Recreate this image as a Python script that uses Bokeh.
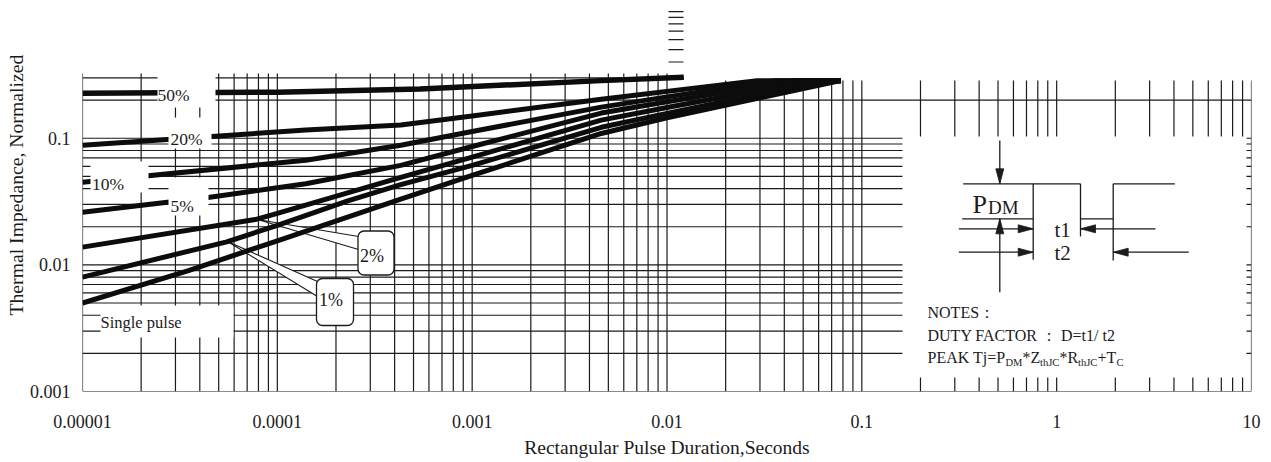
import math

from bokeh.plotting import figure
from bokeh.models import FixedTicker, CustomJSTickFormatter, Label, BoxAnnotation, Title
from bokeh.core.properties import value
from bokeh.embed import file_html
from bokeh.resources import INLINE

# ---------------- chart values ----------------
x_tick_values = [1e-5, 1e-4, 1e-3, 1e-2, 1e-1, 1.0, 10.0]
x_tick_labels = ["0.00001", "0.0001", "0.001", "0.01", "0.1", "1", "10"]
y_tick_values = [1e-3, 1e-2, 1e-1]
y_tick_labels = ["0.001", "0.01", "0.1"]

# rectangular pulse duration (s) and normalized thermal impedance per duty factor
t_d50 = [1e-5, 1e-4, 5.4e-4, 4.6e-3, 1.22e-2]
z_d50 = [0.227, 0.231, 0.245, 0.285, 0.303]
t_d20 = [1e-5, 1.4e-4, 4.3e-4, 1e-3, 4.6e-3, 2.9e-2, 7.8e-2]
z_d20 = [0.088, 0.116, 0.127, 0.150, 0.203, 0.285, 0.285]
t_d10 = [1e-5, 1.4e-4, 4.3e-4, 1e-3, 4.6e-3, 1e-2, 3.6e-2, 7.8e-2]
z_d10 = [0.045, 0.067, 0.088, 0.113, 0.176, 0.212, 0.285, 0.285]
t_d05 = [1e-5, 4.5e-5, 1.4e-4, 4.3e-4, 1e-3, 4.6e-3, 1e-2, 4.5e-2, 7.8e-2]
z_d05 = [0.026, 0.0342, 0.0437, 0.061, 0.086, 0.158, 0.194, 0.285, 0.285]
t_d02 = [1e-5, 7.7e-5, 1e-4, 4.3e-4, 1e-3, 4.6e-3, 1e-2, 5.5e-2, 7.8e-2]
z_d02 = [0.0138, 0.0228, 0.0255, 0.049, 0.071, 0.139, 0.175, 0.285, 0.285]
t_d01 = [1e-5, 5.5e-5, 1e-4, 2.3e-4, 4.3e-4, 1e-3, 4.6e-3, 1e-2, 6.5e-2, 7.8e-2]
z_d01 = [0.008, 0.0152, 0.0205, 0.032, 0.043, 0.061, 0.122, 0.157, 0.285, 0.285]
t_single = [1e-5, 3.5e-5, 1e-4, 4.3e-4, 1e-3, 4.6e-3, 1e-2, 7.8e-2]
z_single = [0.005, 0.009, 0.0155, 0.033, 0.051, 0.109, 0.145, 0.285]

curve_labels = ["50%", "20%", "10%", "5%", "2%", "1%", "Single pulse"]

# ---------------- figure ----------------
W, H = 1271, 462
LEFT, RIGHT, TOP, BOTTOM = 82, 20, 10, 71
X_RANGE = (1e-5, 10.0)
Y_RANGE = (1e-3, 1.02)
INK = "#1b1b1b"
SERIF = "Liberation Serif"

p = figure(width=W, height=H, x_axis_type="log", y_axis_type="log",
           x_range=X_RANGE, y_range=Y_RANGE,
           min_border_left=LEFT, min_border_right=RIGHT,
           min_border_top=TOP, min_border_bottom=BOTTOM,
           output_backend="svg", toolbar_location=None)
p.xgrid.visible = False
p.ygrid.visible = False
p.outline_line_color = None
p.background_fill_color = "white"
p.border_fill_color = "white"

FRAME_W = W - LEFT - RIGHT
FRAME_H = H - TOP - BOTTOM


def tx(px):
    """canvas x (px) -> pulse duration"""
    lo, hi = math.log10(X_RANGE[0]), math.log10(X_RANGE[1])
    return 10 ** (lo + (px - LEFT) / FRAME_W * (hi - lo))


def zy(py):
    """canvas y (px) -> impedance"""
    lo, hi = math.log10(Y_RANGE[0]), math.log10(Y_RANGE[1])
    return 10 ** (lo + (TOP + FRAME_H - py) / FRAME_H * (hi - lo))


# ---------------- axes ----------------
fmt_code = """
const k = vals.findIndex(v => Math.abs(Math.log10(v) - Math.log10(tick)) < 1e-6);
return k < 0 ? "" : labs[k];
"""
p.xaxis.ticker = FixedTicker(ticks=x_tick_values)
p.xaxis.formatter = CustomJSTickFormatter(args=dict(vals=x_tick_values, labs=x_tick_labels), code=fmt_code)
p.yaxis.ticker = FixedTicker(ticks=y_tick_values)
p.yaxis.formatter = CustomJSTickFormatter(args=dict(vals=y_tick_values, labs=y_tick_labels), code=fmt_code)

for ax in (p.xaxis[0], p.yaxis[0]):
    ax.axis_line_color = None
    ax.major_tick_line_color = None
    ax.minor_tick_line_color = None
    ax.major_tick_out = 0
    ax.major_tick_in = 0
    ax.minor_tick_out = 0
    ax.minor_tick_in = 0
    ax.major_label_text_font = SERIF
    ax.major_label_text_font_size = "18px"
    ax.major_label_text_color = INK

p.xaxis.major_label_standoff = 23
p.yaxis.major_label_standoff = 12
p.xaxis.axis_label = "Rectangular Pulse Duration,Seconds"
p.xaxis.axis_label_text_font = SERIF
p.xaxis.axis_label_text_font_style = "normal"
p.xaxis.axis_label_text_font_size = "19.5px"
p.xaxis.axis_label_text_color = INK
p.xaxis.axis_label_standoff = 6

# vertical title, anchored from the bottom of its side panel
p.add_layout(Title(text="Thermal Impedance, Normalized", align="left", offset=76, standoff=0,
                   text_font=SERIF, text_font_size="19.7px", text_font_style="normal",
                   text_color=INK), "left")

# ---------------- log grid ----------------
cut_t = tx(683)
top_left, top_right = zy(73), zy(80)
x_lines = [k * 10.0 ** n for n in range(-5, 1) for k in range(1, 10)] + [10.0]
y_lines = [v for v in (k * 10.0 ** n for n in range(-3, 0) for k in range(1, 10)) if v < 0.31]

gx0, gy0, gx1, gy1 = [], [], [], []
for v in x_lines:
    gx0.append(v); gx1.append(v)
    gy0.append(Y_RANGE[0]); gy1.append(top_left if v < cut_t else top_right)
for v in y_lines:
    gx0.append(X_RANGE[0]); gx1.append(cut_t if v > 0.25 else X_RANGE[1])
    gy0.append(v); gy1.append(v)
# short stubs left over from the upper decade
for v in [0.4, 0.5, 0.6, 0.7, 0.8, 0.9, 1.0]:
    gx0.append(tx(668)); gx1.append(cut_t)
    gy0.append(v); gy1.append(v)
p.segment(gx0, gy0, gx1, gy1, line_color=INK, line_width=1.2)

# ---------------- callout pointers (under the curves) ----------------
wedges = [[(257, 219), (358, 236), (358, 249)],
          [(227, 241), (317, 281), (317, 296)]]
p.patches([[tx(a) for a, b in w] for w in wedges], [[zy(b) for a, b in w] for w in wedges],
          fill_color="white", line_color=INK, line_width=1.1)

# ---------------- curves ----------------
curves = [(t_d50, z_d50, 5.5), (t_d20, z_d20, 5.0), (t_d10, z_d10, 5.0), (t_d05, z_d05, 5.0),
          (t_d02, z_d02, 5.0), (t_d01, z_d01, 5.0), (t_single, z_single, 5.0)]
for t, z, w in curves:
    p.line(t, z, line_color="#0c0c0c", line_width=w, line_join="round")

# ---------------- label clearings ----------------
clear = [(157, 215, 68, 107),    # 50%
         (168, 211, 117, 148),   # 20%
         (90, 148, 161, 192),    # 10%
         (168, 208, 177, 215),   # 5%
         (100, 233, 305, 337),   # single pulse
         (902, 1246, 136, 377)]  # notes panel
p.quad(left=[tx(c[0]) for c in clear], right=[tx(c[1]) for c in clear],
       top=[zy(c[2]) for c in clear], bottom=[zy(c[3]) for c in clear],
       fill_color="white", line_color=None)


def put(txt, px, py, size, align="left"):
    p.text(x=[tx(px)], y=[zy(py)], text=[txt], text_font=value(SERIF), text_font_size=size,
           text_color=INK, text_align=align, text_baseline="middle")


# curve labels
for txt, (px, py) in zip(curve_labels[:4], [(157, 94), (170, 138.3), (91.5, 183.3), (170, 205)]):
    put(txt, px, py, "17.5px")
put(curve_labels[6], 100, 321.5, "16.5px")

# callout boxes
for (l, r, tp, bt), txt, (lx, ly) in [((357.5, 393.5, 230.5, 274.5), curve_labels[4], (359.5, 255)),
                                      ((316, 353, 278, 325), curve_labels[5], (318.5, 299))]:
    p.add_layout(BoxAnnotation(left=tx(l), right=tx(r), top=zy(tp), bottom=zy(bt),
                               fill_color="white", fill_alpha=1.0, line_color=INK,
                               line_alpha=1.0, line_width=1.3, border_radius=6))
    p.add_layout(Label(x=tx(lx), y=zy(ly), text=txt, text_font=SERIF, text_font_size="18px",
                       text_color=INK, text_align="left", text_baseline="middle"))

# ---------------- pulse diagram ----------------
wave = [((962.7, 183.3), (1080, 183.3)), ((1080, 183.3), (1080, 236)),
        ((1080, 218.3), (1112.7, 218.3)), ((1112.7, 183.3), (1112.7, 260)),
        ((1112.7, 183.3), (1174.3, 183.3)), ((1032.7, 183.3), (1032.7, 259.3)),
        ((961.7, 218.3), (1032.7, 218.3))]
arrows = [((958.3, 228.3), (1032.7, 228.3)), ((1155, 228.3), (1080, 228.3)),
          ((958.3, 251.7), (1032.7, 251.7)), ((1188.3, 251.7), (1112.7, 251.7)),
          ((999.3, 140), (999.3, 183.3)), ((999.3, 291.7), (999.3, 218.3))]
segs = wave + arrows
p.segment([tx(a[0]) for a, b in segs], [zy(a[1]) for a, b in segs],
          [tx(b[0]) for a, b in segs], [zy(b[1]) for a, b in segs],
          line_color=INK, line_width=1.3)

hx, hy = [], []
for (x0, y0), (x1, y1) in arrows:
    L = math.hypot(x1 - x0, y1 - y0)
    dx, dy = (x1 - x0) / L, (y1 - y0) / L
    bx, by = x1 - dx * 15, y1 - dy * 15
    pts = [(x1, y1), (bx - dy * 4, by + dx * 4), (bx + dy * 4, by - dx * 4)]
    hx.append([tx(a) for a, b in pts]); hy.append([zy(b) for a, b in pts])
p.patches(hx, hy, fill_color=INK, line_color=INK, line_width=0.8)

put("P", 972, 204, "26px")
put("DM", 987.5, 206.5, "19px")
put("t1", 1054, 229, "21px")
put("t2", 1054, 252, "21px")

# notes
put("NOTES\uff1a", 927, 312, "16px")
put("DUTY FACTOR  \uff1a  D=t1/ t2", 927, 334.6, "16px")
peak = [("PEAK Tj=P", 927, 0, "16px"), ("DM", 1005, 1, "10.5px"), ("*Z", 1022, 0, "16px"),
        ("thJC", 1039.5, 1, "10.5px"), ("*R", 1059, 0, "16px"), ("thJC", 1077.5, 1, "10.5px"),
        ("+T", 1097, 0, "16px"), ("C", 1116, 1, "10.5px")]
for s, px, sub, size in peak:
    put(s, px, 357 + 4.5 * sub, size)

open("out.html", "w").write(file_html(p, INLINE))
